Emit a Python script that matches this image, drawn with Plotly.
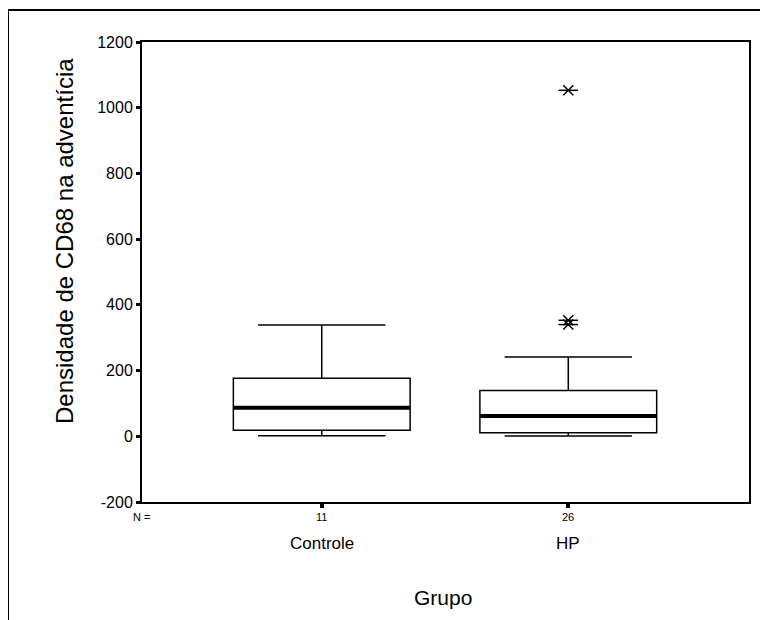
import plotly.graph_objects as go

groups = ["Controle", "HP"]
counts = [11, 26]
q1 = [18, 11]
median = [87, 62]
q3 = [177, 139]
lower = [2, 1]
upper = [339, 241]
extremes_x = [1, 1, 1]
extremes_y = [340, 353, 1053]
yticks = [-200, 0, 200, 400, 600, 800, 1000, 1200]
ytick_labels = [str(v) for v in yticks]

FONT = "Liberation Sans, Arial, Helvetica, sans-serif"
pos = list(range(len(groups)))
BOXW = 0.717

# plot area in figure px (page has 8px body margin)
L, R, T, B = 134, 741, 34, 494
PW, PH = R - L, B - T

def px(x):
    return (x - L) / PW

def py(y):
    return (B - y) / PH

fig = go.Figure()
for i, g in enumerate(groups):
    fig.add_trace(go.Box(
        x=[pos[i]], q1=[q1[i]], median=[median[i]], q3=[q3[i]],
        lowerfence=[lower[i]], upperfence=[upper[i]],
        width=BOXW, whiskerwidth=0.72, fillcolor="white",
        line=dict(color="black", width=1.5), name=g, showlegend=False,
        hoverinfo="skip", boxpoints=False))
    fig.add_trace(go.Scatter(
        x=[pos[i] - BOXW / 2, pos[i] + BOXW / 2], y=[median[i], median[i]],
        mode="lines", line=dict(color="black", width=4), showlegend=False,
        hoverinfo="skip"))

fig.add_trace(go.Scatter(x=extremes_x, y=extremes_y, mode="markers",
                         marker=dict(symbol="line-ew", size=14, line=dict(color="black", width=1.5)),
                         showlegend=False, hoverinfo="skip"))
fig.add_trace(go.Scatter(x=extremes_x, y=extremes_y, mode="markers",
                         marker=dict(symbol="x-thin", size=10, line=dict(color="black", width=1.5)),
                         showlegend=False, hoverinfo="skip"))

def ann(x, y, text, size, xref="paper", **kw):
    return dict(x=x, y=y, xref=xref, yref="paper", text=text, showarrow=False,
                xanchor="center", yanchor="middle",
                font=dict(family=FONT, size=size, color="black"), **kw)

annotations = []
for i, g in enumerate(groups):
    annotations.append(ann(pos[i], py(509), str(counts[i]), 11, xref="x"))
    annotations.append(ann(pos[i], py(535), g, 17, xref="x"))
annotations.append(ann(px(133), py(509), "N =", 11))
annotations.append(ann(px(435), py(589), "Grupo", 21))
annotations.append(ann(px(57), py(233), "Densidade de CD68 na adventícia", 24, textangle=-90))

fig.update_layout(
    width=768, height=620,
    margin=dict(l=L, r=768 - R, t=T, b=620 - B),
    paper_bgcolor="white", plot_bgcolor="white",
    font=dict(family=FONT, color="black"),
    annotations=annotations,
    shapes=[dict(type="rect", xref="paper", yref="paper",
                 x0=px(0), x1=px(800), y0=py(660), y1=py(2),
                 line=dict(color="black", width=2), fillcolor="rgba(0,0,0,0)", layer="below")],
)
fig.update_xaxes(range=[-0.729, 1.733], tickvals=pos, showticklabels=False,
                 ticks="outside", ticklen=4, tickwidth=4, tickcolor="black",
                 showline=True, linecolor="black", linewidth=2, mirror=True,
                 showgrid=False, zeroline=False)
fig.update_yaxes(range=[-200, 1200], tickvals=yticks, ticktext=ytick_labels,
                 ticks="outside", ticklen=4, tickwidth=3,
                 tickcolor="black", showline=True, linecolor="black", linewidth=2, mirror=True,
                 showgrid=False, zeroline=False, tickfont=dict(family=FONT, size=16, color="black"))

fig.write_html("out.html")
